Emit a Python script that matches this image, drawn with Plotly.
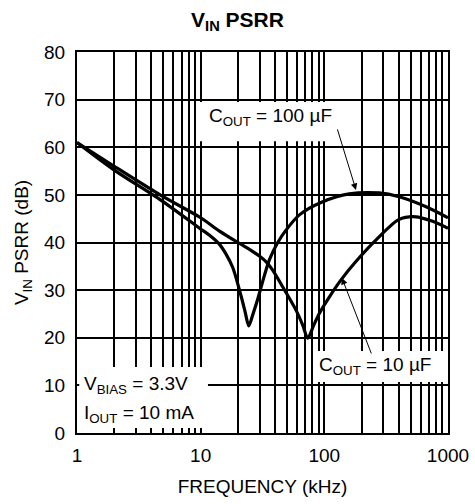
import plotly.graph_objects as go

# ---- data ----
freq_100uF = [1, 2, 4.7, 9.8, 11.8, 14.2, 16, 18.2, 21.3, 22.9, 24.5, 26.5, 29, 32.7, 36, 42, 49, 62.9, 96, 159, 278, 403, 665, 1000]
psrr_100uF = [61, 55.2, 49, 43, 41.5, 39.6, 37.6, 34.7, 28.6, 25.4, 22.5, 25, 28.2, 33, 36.4, 40, 42.6, 45.8, 48.5, 50.2, 50.4, 49.6, 47.5, 45.2]

freq_10uF = [1, 2, 4.7, 10, 14.2, 20.6, 25, 30, 34, 38, 46, 59, 67, 73.4, 82, 91, 110, 136, 180, 261, 400, 550, 742, 1000]
psrr_10uF = [61, 56, 50, 45.2, 42.4, 39.8, 38.5, 37.1, 35.9, 34.3, 30.7, 25.8, 22.6, 19.9, 22.6, 25.1, 28.6, 32.1, 36, 40.5, 44.8, 45.4, 44.5, 43]

x_tick_vals = [1, 10, 100, 1000]
x_tick_text = ["1", "10", "100", "1000"]
x_minor_vals = [2, 3, 4, 5, 6, 7, 8, 9, 20, 30, 40, 50, 60, 70, 80, 90, 200, 300, 400, 500, 600, 700, 800, 900]
y_tick_vals = [0, 10, 20, 30, 40, 50, 60, 70, 80]

FONT = "Liberation Sans, Arial, Helvetica, sans-serif"

fig = go.Figure()
for fx, fy in [(freq_100uF, psrr_100uF), (freq_10uF, psrr_10uF)]:
    fig.add_trace(go.Scatter(
        x=fx, y=fy, mode="lines",
        line=dict(color="black", width=3.2, shape="spline", smoothing=0.8),
        showlegend=False, hoverinfo="skip"))

# white label backgrounds that hide the grid
boxes = [
    (0.006, 0.353, 0.013, 0.173),
    (0.3235, 0.728, 0.766, 0.869),
    (0.639, 0.994, 0.134, 0.215),
]
for x0, x1, y0, y1 in boxes:
    fig.add_shape(type="rect", xref="paper", yref="paper",
                  x0=x0, x1=x1, y0=y0, y1=y1,
                  fillcolor="white", line=dict(width=0), layer="above")

labels = [
    ("V<sub>BIAS</sub> = 3.3V", 0.0135, 0.126),
    ("I<sub>OUT</sub> = 10 mA", 0.0135, 0.049),
    ("C<sub>OUT</sub> = 100 µF", 0.350, 0.830),
    ("C<sub>OUT</sub> = 10 µF", 0.647, 0.176),
]
for txt, x, y in labels:
    fig.add_annotation(text=txt, xref="paper", yref="paper", x=x, y=y,
                       xanchor="left", yanchor="middle", showarrow=False,
                       font=dict(family=FONT, size=19, color="black"))

arrows = [
    (0.752, 0.638, -19, -62),
    (0.714, 0.407, 30, 77),
]
for x, y, ax, ay in arrows:
    fig.add_annotation(text="", xref="paper", yref="paper", x=x, y=y,
                       ax=ax, ay=ay, showarrow=True, arrowhead=2, arrowsize=1.3,
                       arrowwidth=1, arrowcolor="black")

fig.update_layout(
    width=475, height=504,
    margin=dict(l=77, r=27, t=52, b=71, autoexpand=False),
    paper_bgcolor="white", plot_bgcolor="white",
    font=dict(family=FONT, size=19, color="black"),
    title=dict(text="<b>V<sub>IN</sub> PSRR</b>", x=0.5, xanchor="center",
               y=0.962, yanchor="middle", font=dict(family=FONT, size=21, color="black")),
)
fig.update_xaxes(
    type="log", range=[0, 3], automargin=False,
    tickvals=x_tick_vals, ticktext=x_tick_text,
    showgrid=True, gridcolor="black", gridwidth=1.5,
    minor=dict(tickvals=x_minor_vals, showgrid=True, gridcolor="black", gridwidth=1.5, ticks=""),
    showline=True, linecolor="black", linewidth=2, mirror=True,
    ticks="outside", ticklen=4, tickcolor="rgba(0,0,0,0)",
    title=dict(text="FREQUENCY (kHz)", standoff=15, font=dict(size=19)),
    zeroline=False,
)
fig.update_yaxes(
    range=[0, 80], tickvals=y_tick_vals, automargin=False,
    showgrid=True, gridcolor="black", gridwidth=1.5,
    showline=True, linecolor="black", linewidth=2, mirror=True,
    ticks="outside", ticklen=6, tickcolor="rgba(0,0,0,0)",
    title=dict(text="V<sub>IN</sub> PSRR (dB)", standoff=10, font=dict(size=19)),
    zeroline=False,
)

fig.write_html("out.html", config={"displayModeBar": False},
               post_script="document.body.style.margin='0';")
